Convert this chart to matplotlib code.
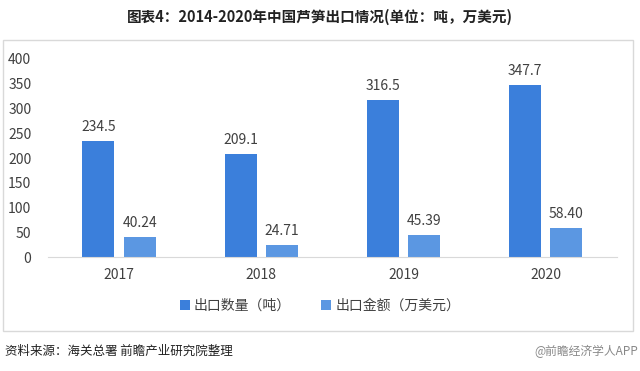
import numpy as np
import matplotlib
matplotlib.use('Agg')
import matplotlib.pyplot as plt
from matplotlib.patches import Rectangle

plt.rcParams['font.family'] = ['Noto Sans CJK SC', 'DejaVu Sans']

years = ['2017', '2018', '2019', '2020']
qty = [234.5, 209.1, 316.5, 347.7]
value = [40.24, 24.71, 45.39, 58.40]
qty_labels = ['234.5', '209.1', '316.5', '347.7']
value_labels = ['40.24', '24.71', '45.39', '58.40']

c_dark = '#3b7fdb'
c_light = '#5b97e2'
txt = '#404040'

fig = plt.figure(figsize=(6.4, 3.71), dpi=100)
fig.patch.set_facecolor('white')

# outer frame of the chart
fig.patches.append(Rectangle((3 / 640, 1 - 331 / 371), 630 / 640, 291 / 371,
                             transform=fig.transFigure, fill=False,
                             edgecolor='#d9d9d9', linewidth=1))

ax = fig.add_axes([0.075, 0.307, 0.889, 0.534])
x = np.arange(len(years))
w = 0.225
b1 = ax.bar(x - 0.145, qty, w, color=c_dark, label='出口数量（吨）')
b2 = ax.bar(x + 0.145, value, w, color=c_light, label='出口金额（万美元）')

for rect, lab in zip(b1, qty_labels):
    ax.text(rect.get_x() + rect.get_width() / 2, rect.get_height() + 14, lab,
            ha='center', va='bottom', fontsize=10, color=txt)
for rect, lab in zip(b2, value_labels):
    ax.text(rect.get_x() + rect.get_width() / 2, rect.get_height() + 14, lab,
            ha='center', va='bottom', fontsize=10, color=txt)

ax.set_xlim(-0.5, 3.5)
ax.set_ylim(0, 400)
ax.set_yticks(range(0, 401, 50))
ax.set_xticks(x)
ax.set_xticklabels(years)
ax.tick_params(axis='both', length=0, labelsize=10, colors=txt)
ax.tick_params(axis='x', pad=8)
ax.tick_params(axis='y', pad=12)
for s in ['top', 'right', 'left']:
    ax.spines[s].set_visible(False)
ax.spines['bottom'].set_color('#d9d9d9')

fig.legend(handles=[b1, b2], loc='center', bbox_to_anchor=(0.5, 1 - 306 / 371),
           ncol=2, frameon=False, fontsize=10, handlelength=0.7, handleheight=0.7,
           handletextpad=0.3, columnspacing=2.2, labelcolor=txt)

fig.text(0.5, 1 - 17 / 371, '图表4：2014-2020年中国芦笋出口情况(单位：吨，万美元)',
         ha='center', va='center', fontsize=10.5, fontweight='bold', color='#222222')
fig.text(5 / 640, 1 - 351 / 371, '资料来源：海关总署 前瞻产业研究院整理',
         ha='left', va='center', fontsize=9, color='#222222')
fig.text(638 / 640, 1 - 351 / 371, '@前瞻经济学人APP',
         ha='right', va='center', fontsize=8.5, color='#888888')

fig.savefig('out.png', dpi=100, facecolor='white')
